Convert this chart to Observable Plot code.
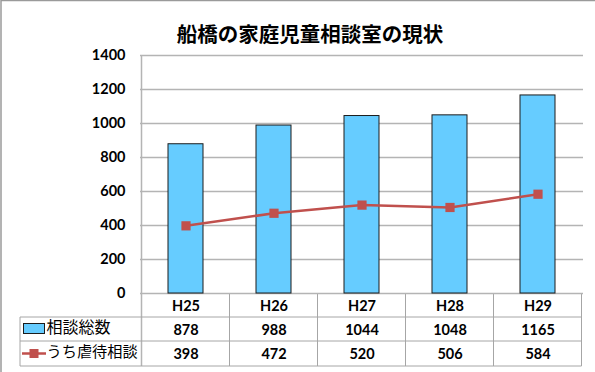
<!DOCTYPE html>
<html><head><meta charset="utf-8">
<script src="https://cdn.jsdelivr.net/npm/d3@7"></script>
<script src="https://cdn.jsdelivr.net/npm/@observablehq/plot@0.6"></script>
<style>
body{margin:0;background:#fff;}
#wrap{position:relative;width:595px;height:372px;overflow:hidden;background:#fff;}
#title{position:absolute;left:0;width:620px;top:19px;text-align:center;font-family:"Noto Sans CJK JP";font-weight:bold;font-size:20.5px;line-height:28px;color:#000;z-index:2;}
#wrap svg{position:absolute;left:0;top:0;}
</style></head><body>
<div id="wrap"><div id="title">船橋の家庭児童相談室の現状</div></div>
<script>
const years = ["H25", "H26", "H27", "H28", "H29"];
const totalConsults = [878, 988, 1044, 1048, 1165];
const abuseConsults = [398, 472, 520, 506, 584];
const yTicks = [0, 200, 400, 600, 800, 1000, 1200, 1400];
const seriesNames = ["相談総数", "うち虐待相談"];

const barColor = "#66CCFF";
const lineColor = "#C0504D";
const data = years.map((y, i) => ({year: y, total: totalConsults[i], abuse: abuseConsults[i]}));

const numFont = "Lato, 'Liberation Sans', sans-serif";
const plot = Plot.plot({
  width: 595, height: 372,
  marginLeft: 140, marginRight: 12, marginTop: 55, marginBottom: 79,
  style: {fontFamily: numFont, background: "transparent", overflow: "visible"},
  x: {domain: years, paddingInner: 0.6, paddingOuter: 0.3, axis: null},
  y: {domain: [0, 1400], ticks: yTicks, axis: null},
  marks: [
    Plot.gridY(yTicks, {stroke: "#b4b4b4", strokeOpacity: 1, strokeWidth: 1.5}),
    Plot.axisY(yTicks, {tickSize: 0, tickPadding: 15, fontSize: 14.5, fontWeight: "bold", fill: "#000", tickFormat: d => String(d)}),
    Plot.barY(data, {x: "year", y: "total", fill: barColor, stroke: "#1c1c1c", strokeWidth: 1}),
    Plot.lineY(data, {x: "year", y: "abuse", stroke: lineColor, strokeWidth: 2.5}),
    Plot.dot(data, {x: "year", y: "abuse", symbol: "square", r: 5.2, fill: lineColor, stroke: "none"}),
    Plot.text(data, {x: "year", y: () => 0, text: "year", dy: 13, fontSize: 14.5, fontWeight: "bold", fill: "#000"}),
    Plot.text(data, {x: "year", y: () => 0, text: d => String(d.total), dy: 37, fontSize: 14.5, fontWeight: "bold", fill: "#000"}),
    Plot.text(data, {x: "year", y: () => 0, text: d => String(d.abuse), dy: 61, fontSize: 14.5, fontWeight: "bold", fill: "#000"}),
    Plot.text([seriesNames[0]], {frameAnchor: "bottom-left", text: d => d, dx: -94, dy: 39.5, textAnchor: "start", fontSize: 16, fontFamily: "Noto Sans CJK JP", fill: "#000"}),
    Plot.text([seriesNames[1]], {frameAnchor: "bottom-left", text: d => d, dx: -94, dy: 63.5, textAnchor: "start", fontSize: 15.2, fontFamily: "Noto Sans CJK JP", fill: "#000"})
  ]
});

const xs = plot.scale("x"), ys = plot.scale("y");
const step = xs.step, bw = xs.bandwidth;
const x0 = xs.apply(years[0]) + bw / 2 - step / 2;
const xEnd = xs.apply(years[years.length - 1]) + bw / 2 + step / 2;
const yTop = ys.apply(1400), yZero = ys.apply(0);
const r1 = yZero + 24, r2 = r1 + 24, r3 = r2 + 25;
const tableLeft = 20;
const svg = d3.select(plot);
const g = svg.insert("g", ":first-child");
const lc = "#a6a6a6";
// plot left border
g.append("line").attr("x1", x0).attr("x2", x0).attr("y1", yTop).attr("y2", r3).attr("stroke", "#b4b4b4").attr("stroke-width", 1.5);
// table column lines
years.forEach((y, i) => {
  const xx = xs.apply(y) + bw / 2 + step / 2;
  g.append("line").attr("x1", xx).attr("x2", xx).attr("y1", yZero).attr("y2", r3).attr("stroke", lc);
});
g.append("line").attr("x1", tableLeft).attr("x2", tableLeft).attr("y1", r1).attr("y2", r3).attr("stroke", lc);
[r1, r2, r3].forEach(yy => g.append("line").attr("x1", tableLeft).attr("x2", xEnd).attr("y1", yy).attr("y2", yy).attr("stroke", lc));
// legend swatches
const legendG = svg.append("g");
legendG.append("rect").attr("x", 23.5).attr("y", r1 + 6.5).attr("width", 21).attr("height", 10).attr("fill", barColor).attr("stroke", "#1c1c1c");
const ly = (r2 + r3) / 2;
legendG.append("line").attr("x1", 22).attr("x2", 46).attr("y1", ly).attr("y2", ly).attr("stroke", lineColor).attr("stroke-width", 2.5);
legendG.append("rect").attr("x", 29.5).attr("y", ly - 4.5).attr("width", 9).attr("height", 9).attr("fill", lineColor);
// outer border (top/left)
svg.append("rect").attr("x", 1).attr("y", 0.5).attr("width", 700).attr("height", 500).attr("fill", "none").attr("stroke", "#9a9a9a").attr("stroke-width", 1.5);
document.getElementById("wrap").appendChild(plot);
</script>
</body></html>
